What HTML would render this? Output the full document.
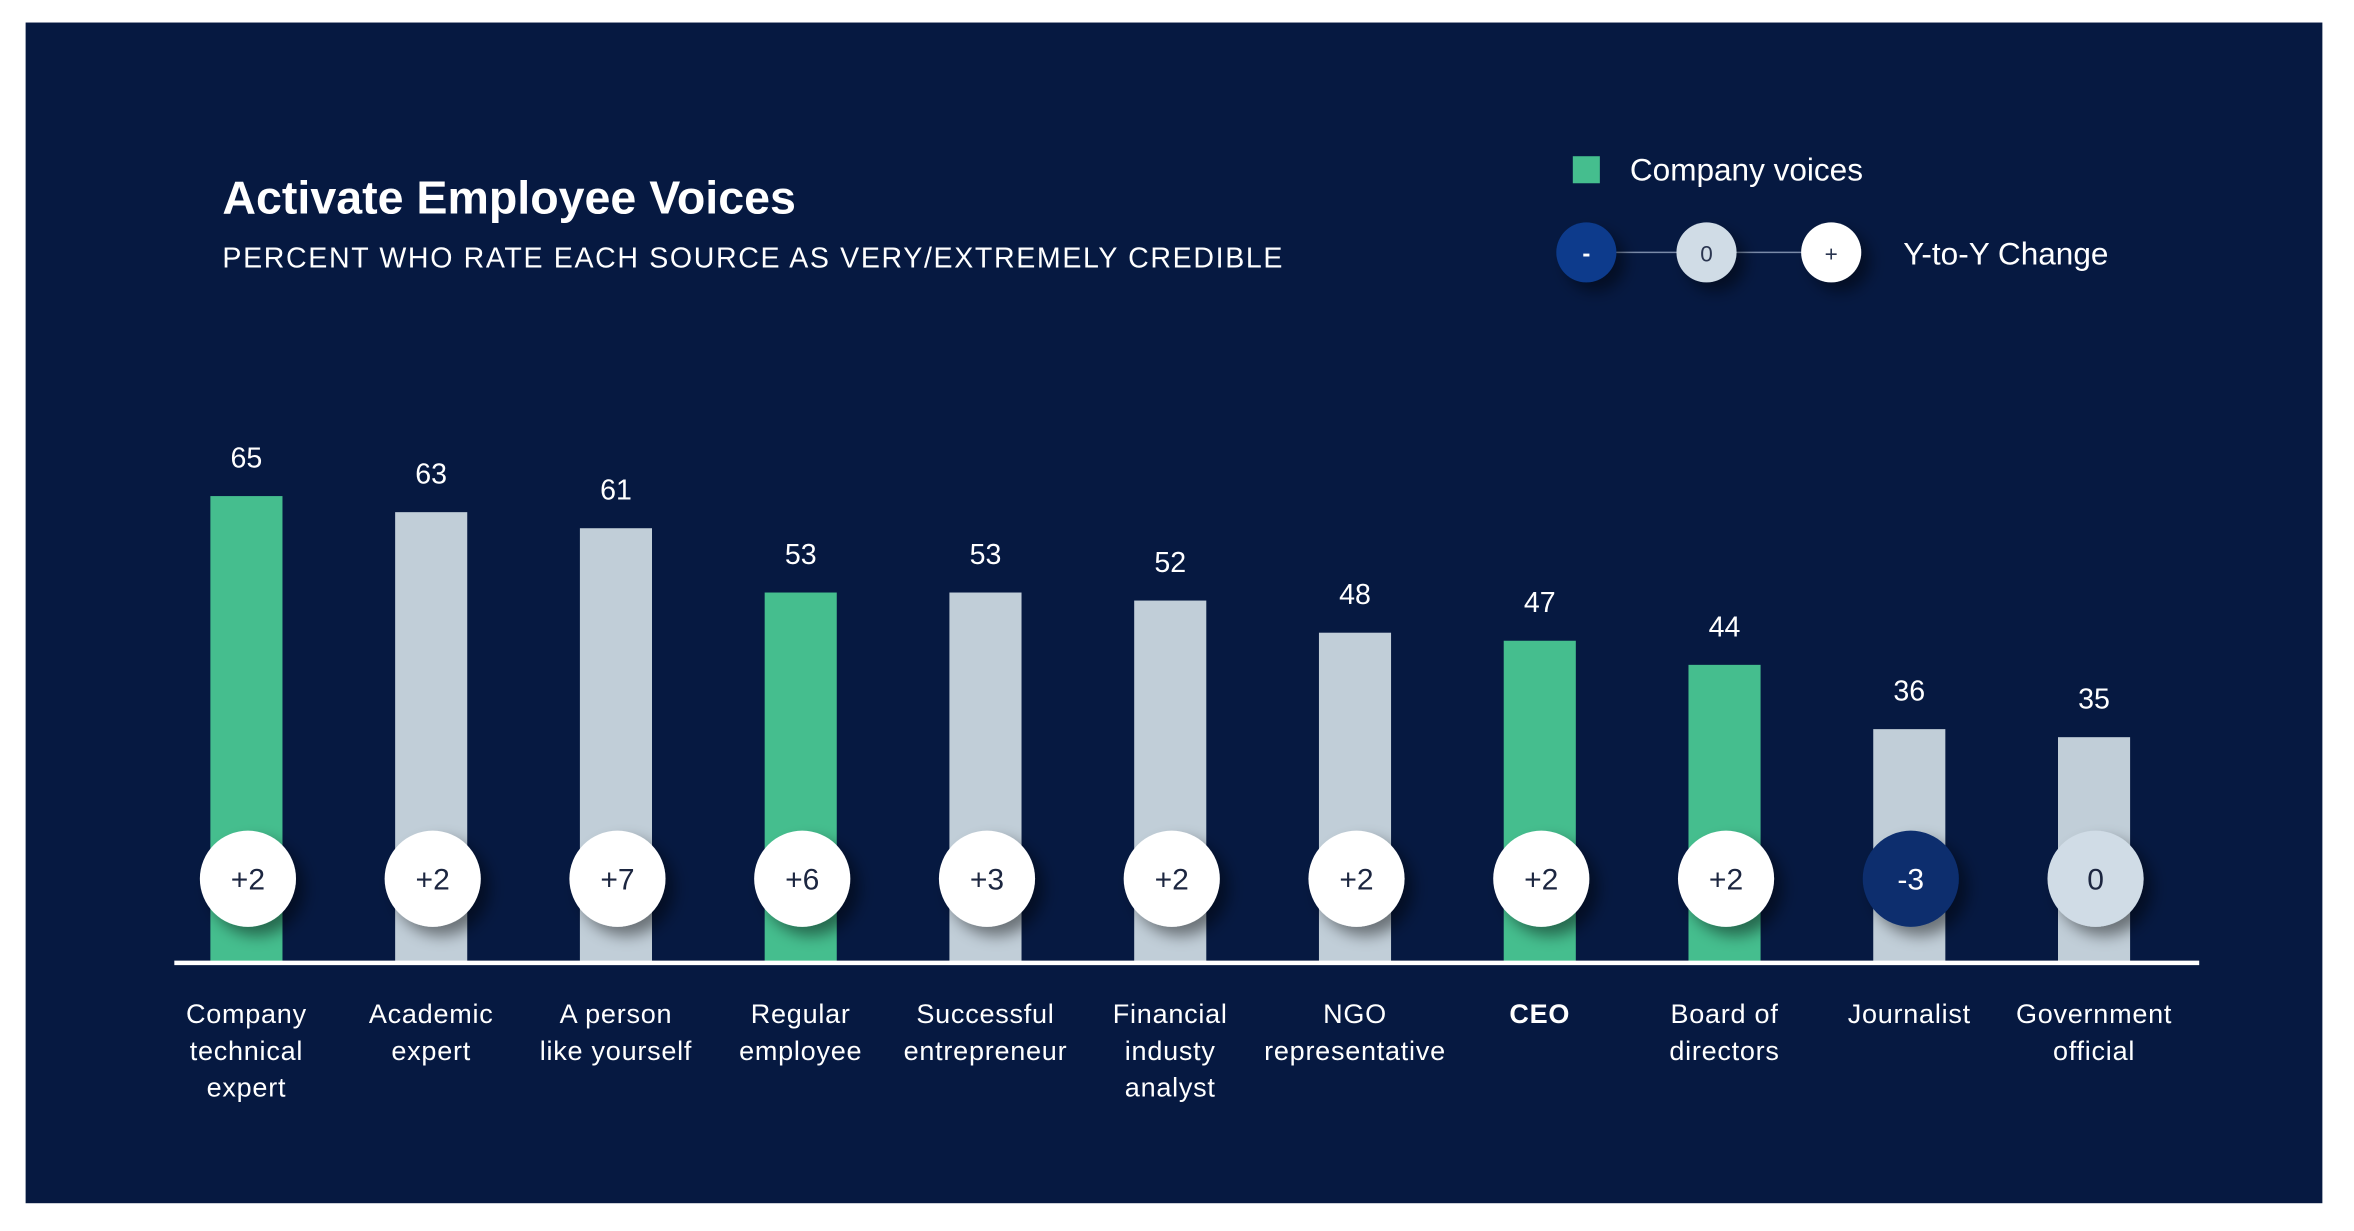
<!DOCTYPE html>
<html><head><meta charset="utf-8"><style>
html,body{margin:0;padding:0;background:#fff;}
svg{display:block;}
text{font-family:"Liberation Sans",sans-serif;}
</style></head><body>
<svg id="chart" width="2354" height="1231" viewBox="0 0 1567 819.5" xmlns="http://www.w3.org/2000/svg">
<defs>
<filter id="sh" x="-50%" y="-50%" width="200%" height="200%"><feDropShadow dx="6" dy="6" stdDeviation="5" flood-color="#000" flood-opacity="0.45"/></filter>
</defs>
<rect x="17" y="15" width="1529" height="786" fill="#061941"/>
<text x="148" y="142" fill="#fff" font-size="31" font-weight="bold">Activate Employee Voices</text>
<text x="148" y="178" fill="#fff" font-size="19" letter-spacing="1.1">PERCENT WHO RATE EACH SOURCE AS VERY/EXTREMELY CREDIBLE</text>
<g>
<rect x="1047" y="104" width="18" height="18" fill="#45be8e"/>
<text x="1085" y="120" fill="#fff" font-size="21">Company voices</text>
<line x1="1056" y1="168" x2="1219" y2="168" stroke="#7a8aa8" stroke-width="1"/>
<circle cx="1056" cy="168" r="20" fill="#0a3a8c" filter="url(#sh)"/>
<text x="1056" y="174" fill="#fff" font-size="16" text-anchor="middle" font-weight="bold">-</text>
<circle cx="1136" cy="168" r="20" fill="#d0dce6" filter="url(#sh)"/>
<text x="1136" y="174" fill="#2a3550" font-size="15" text-anchor="middle">0</text>
<circle cx="1219" cy="168" r="20" fill="#fff" filter="url(#sh)"/>
<text x="1219" y="174" fill="#2a3550" font-size="15" text-anchor="middle">+</text>
<text x="1267" y="176" fill="#fff" font-size="21">Y-to-Y Change</text>
</g>
<g id="bars"></g>
<line x1="116" y1="641" x2="1464" y2="641" stroke="#fff" stroke-width="3"/>
</svg>
<script>
const categories=[["Company","technical","expert"],["Academic","expert"],["A person","like yourself"],["Regular","employee"],["Successful","entrepreneur"],["Financial","industy","analyst"],["NGO","representative"],["CEO"],["Board of","directors"],["Journalist"],["Government","official"]];
const values=[65,63,61,53,53,52,48,47,44,36,35];
const changes=[2,2,7,6,3,2,2,2,2,-3,0];
const companyVoice=[true,false,false,true,false,false,false,true,true,false,false];
const NS="http://www.w3.org/2000/svg";
const g=document.getElementById('bars');
const x0=164, step=123, base=641;
function xs(i){return x0+i*step;}
function ys(v){return 678-v*5.35;}
function mk(t,a){const e=document.createElementNS(NS,t);for(const k in a)e.setAttribute(k,a[k]);g.appendChild(e);return e;}
values.forEach((v,i)=>{
  const cx=xs(i), top=ys(v);
  const b=mk('rect',{x:cx-24,y:top,width:48,height:base-top,fill:companyVoice[i]?'#45be8e':'#c1ced8'});
  
  
  const t=mk('text',{x:cx,y:top-19,fill:'#fff','font-size':19,'text-anchor':'middle'});
  t.textContent=v;
  
  
  const c=changes[i];
  const circ=mk('circle',{cx:cx+1,cy:585,r:32,fill:c<0?'#0a2d6e':(c===0?'#d0dce6':'#fff'),filter:'url(#sh)'});
  
  
  const ct=mk('text',{x:cx+1,y:592,fill:c<0?'#fff':'#1c2640','font-size':20,'text-anchor':'middle'});
  ct.textContent=c>0?'+'+c:String(c);
  
  
  categories[i].forEach((line,j)=>{
    const lt=mk('text',{x:cx,y:681+j*24.5,fill:'#fff','font-size':18,'text-anchor':'middle','letter-spacing':0.5});
    if(line==='CEO')lt.setAttribute('font-weight','bold');
    lt.textContent=line;
    
    
  });
});
</script>
</body></html>
